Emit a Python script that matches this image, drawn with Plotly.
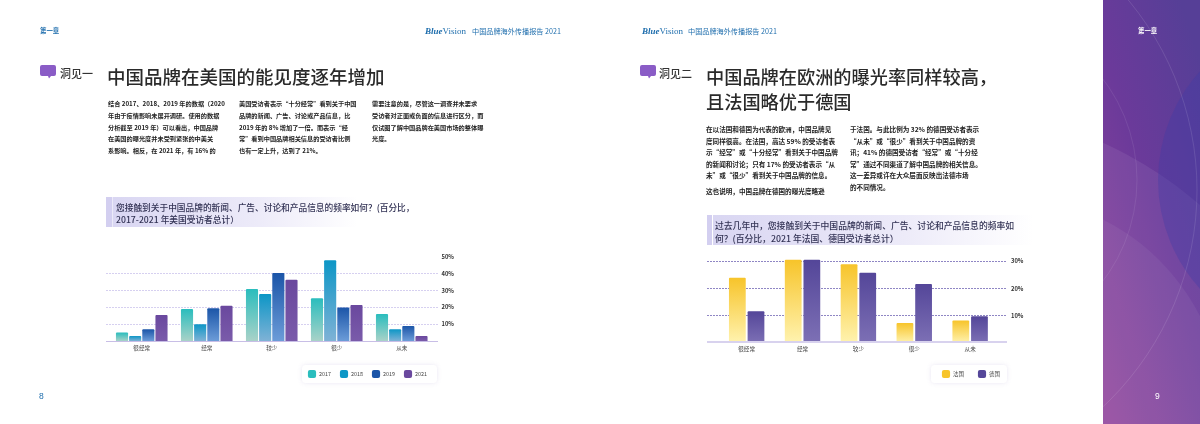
import base64, json
import plotly.graph_objects as go

W, H = 1200, 424

# ---------- data ----------
categories_us = ["很经常", "经常", "较少", "很少", "从未"]
values_2017 = [5, 19, 31, 25.5, 16]
values_2018 = [3, 10, 28, 48, 7]
values_2019 = [7, 19.5, 40.5, 20, 9]
values_2021 = [15.5, 21, 36.5, 21.5, 3]
ticks_us = [10, 20, 30, 40, 50]

categories_eu = ["很经常", "经常", "较少", "很少", "从未"]
values_france = [24, 30.6, 29, 7.4, 8.3]
values_germany = [11.7, 30.6, 25.8, 21.7, 9.8]
ticks_eu = [10, 20, 30]

title_left = "中国品牌在美国的能见度逐年增加"
title_right = ["中国品牌在欧洲的曝光率同样较高，", "且法国略优于德国"]
question_left = ["您接触到关于中国品牌的新闻、广告、讨论和产品信息的频率如何？(百分比，",
                 "2017-2021 年美国受访者总计）"]
question_right = ["过去几年中，您接触到关于中国品牌的新闻、广告、讨论和产品信息的频率如",
                  "何？(百分比，2021 年法国、德国受访者总计）"]
body_left_1 = ["结合 2017、2018、2019 年的数据（2020", "年由于疫情影响未展开调研。使用的数据",
               "分析截至 2019 年）可以看出，中国品牌", "在美国的曝光度并未受到紧张的中美关",
               "系影响。相反，在 2021 年，有 16% 的"]
body_left_2 = ["美国受访者表示“十分经常”看到关于中国", "品牌的新闻、广告、讨论或产品信息，比",
               "2019 年的 8% 增加了一倍。而表示“经", "常”看到中国品牌相关信息的受访者比例",
               "也有一定上升，达到了 21%。"]
body_left_3 = ["需要注意的是，尽管这一调查并未要求", "受访者对正面或负面的信息进行区分，而",
               "仅试图了解中国品牌在美国市场的整体曝", "光度。"]
body_right_1 = ["在以法国和德国为代表的欧洲，中国品牌见", "度同样很高。在法国，高达 59% 的受访者表",
                "示“经常”或“十分经常”看到关于中国品牌", "的新闻和讨论；只有 17% 的受访者表示“从",
                "未”或“很少”看到关于中国品牌的信息。", "这也说明，中国品牌在德国的曝光度略逊"]
body_right_2 = ["于法国。与此比例为 32% 的德国受访者表示", "“从未”或“很少”看到关于中国品牌的资",
                "讯；41% 的德国受访者“经常”或“十分经", "常”通过不同渠道了解中国品牌的相关信息。",
                "这一差异或许在大众层面反映出法德市场", "的不同情况。"]

# ---------- decorative page background (panel, banners, cards, icons) ----------
bg_svg = f'''<svg xmlns="http://www.w3.org/2000/svg" width="{W}" height="{H}" viewBox="0 0 {W} {H}">
<defs>
<linearGradient id="p" x1="0.8" y1="0" x2="0.1" y2="1"><stop offset="0" stop-color="#563F97"/><stop offset="0.45" stop-color="#6B3A9A"/><stop offset="1" stop-color="#8E429B"/></linearGradient>
<linearGradient id="b" x1="0" y1="0" x2="1" y2="0"><stop offset="0" stop-color="#D9D6F2"/><stop offset="0.6" stop-color="#EDEBF9"/><stop offset="1" stop-color="#FFFFFF"/></linearGradient>
<clipPath id="c"><rect x="1103" y="0" width="97" height="424"/></clipPath>
<filter id="s" x="-20%" y="-50%" width="140%" height="200%"><feDropShadow dx="0" dy="0" stdDeviation="2" flood-color="#8877BB" flood-opacity="0.18"/></filter>
</defs>
<rect x="1103" y="0" width="97" height="424" fill="url(#p)"/>
<g clip-path="url(#c)">
<circle cx="934" cy="513" r="407" fill="#FFFFFF" opacity="0.07"/>
<circle cx="1004" cy="416" r="220" fill="#FFFFFF" opacity="0.05"/>
<circle cx="1320" cy="180" r="162" fill="#3F3DA6" opacity="0.35"/>
<circle cx="900" cy="190" r="297" fill="none" stroke="#FFFFFF" stroke-opacity="0.16" stroke-width="0.7"/>
<circle cx="970" cy="180" r="167" fill="none" stroke="#FFFFFF" stroke-opacity="0.12" stroke-width="0.7"/>
</g>
<rect x="106" y="197" width="6" height="30" fill="#D3CFF0"/>
<rect x="112.5" y="197" width="245" height="30" fill="url(#b)"/>
<rect x="707" y="215" width="5" height="30" fill="#D3CFF0"/>
<rect x="713" y="215" width="320" height="30" fill="url(#b)"/>
<rect x="302" y="365" width="135" height="18" rx="4" fill="#FFFFFF" filter="url(#s)"/>
<rect x="931" y="365" width="76" height="18" rx="4" fill="#FFFFFF" filter="url(#s)"/>
<path d="M42,65 h12 a2,2 0 0 1 2,2 v7 a2,2 0 0 1 -2,2 h-3 l-2,2.5 l-1,-2.5 h-6 a2,2 0 0 1 -2,-2 v-7 a2,2 0 0 1 2,-2z" fill="#8A5CC6"/>
<path d="M642,65 h12 a2,2 0 0 1 2,2 v7 a2,2 0 0 1 -2,2 h-3 l-2,2.5 l-1,-2.5 h-6 a2,2 0 0 1 -2,-2 v-7 a2,2 0 0 1 2,-2z" fill="#8A5CC6"/>
</svg>'''
bg_uri = "data:image/svg+xml;base64," + base64.b64encode(bg_svg.encode()).decode()

CJK = "Noto Sans CJK SC"
fig = go.Figure()

series_left = [("2017", values_2017, "#2ABDBD", "#A9D2C8"), ("2018", values_2018, "#0C96C6", "#7FB2D6"),
               ("2019", values_2019, "#1B55A8", "#6C9CD8"), ("2021", values_2021, "#6A489E", "#7A5BAA")]
series_right = [("法国", values_france, "#F7C42A", "#FFF3B0", -0.317), ("德国", values_germany, "#544699", "#7D70B5", 0.017)]
grads = []
for name, vals, top, bot in series_left:
    fig.add_trace(go.Bar(x=categories_us, y=vals, name=name, xaxis="x", yaxis="y", legend="legend",
                         marker=dict(color=top, cornerradius=1, line=dict(width=0))))
    grads.append((top, bot))
for name, vals, top, bot, off in series_right:
    fig.add_trace(go.Bar(x=categories_eu, y=vals, name=name, xaxis="x2", yaxis="y2", legend="legend2",
                         width=0.3, offset=off, marker=dict(color=top, cornerradius=1, line=dict(width=0))))
    grads.append((top, bot))

ann = []
def text(px, py, s, size, color="#222222", anchor="left", bold=False, family=CJK, weight=None):
    f = dict(family=family, size=size, color=color)
    if weight:
        f["weight"] = weight
    ann.append(dict(x=px / W, y=1 - py / H, xref="paper", yref="paper", text=f"<b>{s}</b>" if bold else s,
                    showarrow=False, xanchor=anchor, yanchor="middle", borderpad=0, font=f))

BLUE = "#1F6EAD"
text(39, 31, "第一章", 6.4, BLUE, bold=True)
text(423, 31, "<b><i>Blue</i></b>Vision", 9, BLUE, family="Liberation Serif")
text(471, 31, "中国品牌海外传播报告 2021", 7.15, BLUE)
text(640, 31, "<b><i>Blue</i></b>Vision", 9, BLUE, family="Liberation Serif")
text(687, 31, "中国品牌海外传播报告 2021", 7.15, BLUE)
text(1148, 31, "第一章", 6.4, "#FFFFFF", "center", True)
text(41, 396, "8", 8.5, BLUE, "center", family="Liberation Sans")
text(1157, 396, "9", 8.5, "#FFFFFF", "center", family="Liberation Sans")

text(59, 73, "洞见一", 11, "#333333", weight=500)
text(658, 73, "洞见二", 11, "#333333", weight=500)
text(106, 76, title_left, 18.5, "#2A2A2A", weight=500)
text(705, 76, title_right[0], 18.2, "#2A2A2A", weight=500)
text(705, 101, title_right[1], 18.2, "#2A2A2A", weight=500)

for col, x in ((body_left_1, 107), (body_left_2, 238), (body_left_3, 371)):
    for s, y in zip(col, (103, 115, 127, 138, 150)):
        text(x, y, s, 6.2, "#222222", bold=True)
for col, x, ys in ((body_right_1, 705, (129, 141, 152, 164, 175, 191)),
                   (body_right_2, 849, (129, 141, 152, 164, 175, 187))):
    for s, y in zip(col, ys):
        text(x, y, s, 6.6, "#222222", bold=True)

for s, y in zip(question_left, (207, 219)):
    text(115, y, s, 8.7, "#333355", weight=500)
for s, y in zip(question_right, (225, 238)):
    text(714, y, s, 8.8, "#333355", weight=500)

def xax(x0, x1, rng, line_w, line_c):
    return dict(domain=[x0 / W, x1 / W], range=rng, type="category", showgrid=False, showline=True,
                linecolor=line_c, linewidth=line_w, ticks="", ticklabelstandoff=1,
                tickfont=dict(family=CJK, size=5.6, color="#444444"), fixedrange=True)
def yax(y0, y1, rng, tickv, anchor, grid):
    return dict(domain=[1 - y0 / H, 1 - y1 / H], range=rng, side="right", anchor=anchor, showgrid=True,
                gridcolor=grid, griddash="1.5px,1.5px", gridwidth=1, zeroline=False, showline=False, ticks="",
                tickvals=tickv, ticktext=[f"<b>{v}%</b>" for v in tickv], ticklabelstandoff=3,
                tickfont=dict(family=CJK, size=5.8, color="#333333"), fixedrange=True)

fig.update_layout(
    width=W, height=H, autosize=False, margin=dict(l=0, r=0, t=0, b=0, autoexpand=False),
    paper_bgcolor="#FFFFFF", plot_bgcolor="rgba(0,0,0,0)", barmode="group",
    images=[dict(source=bg_uri, xref="paper", yref="paper", x=0, y=1, sizex=1, sizey=1,
                 xanchor="left", yanchor="top", sizing="stretch", layer="below")],
    annotations=ann,
    xaxis=xax(106, 437.5, [-0.55, 4.55], 1, "#C8BEE6"),
    yaxis=yax(341, 257, [0, 50], ticks_us, "x", "#D6D0F0"),
    xaxis2=xax(707, 1007, [-0.71, 4.66], 2, "#D8D2EE"),
    yaxis2=yax(343, 256, [0, 32], ticks_eu, "x2", "#8F86C4"),
    showlegend=True,
    legend=dict(x=306 / W, y=1 - 374 / H, xanchor="left", yanchor="middle", orientation="h",
                bgcolor="rgba(0,0,0,0)", font=dict(family=CJK, size=5.4, color="#444444"),
                itemwidth=30, traceorder="normal", itemclick=False, itemdoubleclick=False),
    legend2=dict(x=940 / W, y=1 - 374 / H, xanchor="left", yanchor="middle", orientation="h",
                 bgcolor="rgba(0,0,0,0)", font=dict(family=CJK, size=5.4, color="#444444"),
                 itemwidth=30, traceorder="normal", itemclick=False, itemdoubleclick=False),
)
fig.update_layout(bargap=0.19, bargroupgap=0.08)

post = """
(function(){
  document.documentElement.style.margin = '0';
  document.body.style.margin = '0';
  var gd = document.getElementsByClassName('plotly-graph-div')[0];
  var grads = %s;
  var NS = 'http://www.w3.org/2000/svg';
  function apply(){
    var svg = gd.querySelector('svg.main-svg');
    var defs = svg.querySelector('defs');
    grads.forEach(function(g,i){
      if(document.getElementById('bg'+i)) return;
      var lg = document.createElementNS(NS,'linearGradient');
      lg.setAttribute('id','bg'+i); lg.setAttribute('x1','0'); lg.setAttribute('y1','0');
      lg.setAttribute('x2','0'); lg.setAttribute('y2','1');
      [[0,g[0]],[1,g[1]]].forEach(function(s){
        var st = document.createElementNS(NS,'stop');
        st.setAttribute('offset',s[0]); st.setAttribute('stop-color',s[1]); lg.appendChild(st);
      });
      defs.appendChild(lg);
    });
    gd.querySelectorAll('.barlayer .trace').forEach(function(tr,i){
      tr.querySelectorAll('.point path').forEach(function(p){
        p.style.fill = 'url(#bg'+i+')';
      });
    });
    [['.legend',32],['.legend2',36]].forEach(function(spec){
      var l = gd.querySelector(spec[0]); if(!l) return;
      l.querySelectorAll('.traces').forEach(function(t,i){
        var m = /translate\\(([^,]+),\\s*([^)]+)\\)/.exec(t.getAttribute('transform')||'');
        var y = m ? m[2] : 0;
        t.setAttribute('transform','translate('+(i*spec[1])+','+y+')');
        t.querySelectorAll('.legendpoints path').forEach(function(p){
          p.setAttribute('transform','translate(6,0) scale(0.68)'); p.style.strokeWidth = 0;
        });
        var tx = t.querySelector('text'); if(tx){ tx.setAttribute('x','13'); }
      });
    });
    var pc = gd.querySelector('.plot-container'); if(pc){ pc.style.filter='blur(0.5px)'; }
  }
  gd.on('plotly_afterplot', apply);
  apply();
  setTimeout(apply, 50);
})();
""" % json.dumps(grads)

fig.write_html("out.html", post_script=post, config=dict(displayModeBar=False))
